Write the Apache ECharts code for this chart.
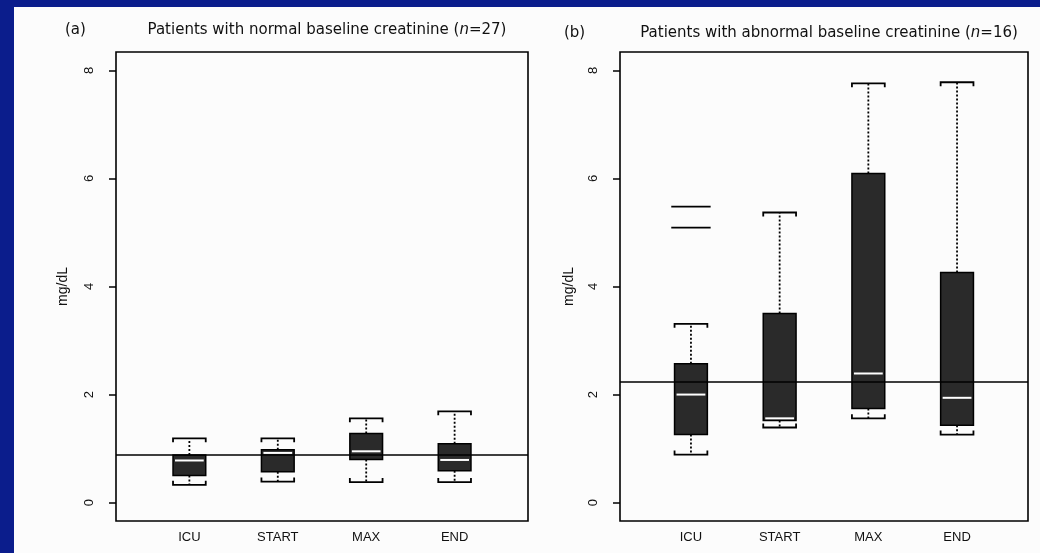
<!DOCTYPE html>
<html><head><meta charset="utf-8">
<script src="https://cdn.jsdelivr.net/npm/echarts@6/dist/echarts.min.js"></script>
<style>html,body{margin:0;padding:0;background:#0b1d8c}#c{width:1040px;height:553px}</style>
</head><body><div id="c"></div>
<script>
// ---- data ----
const categories = ['ICU', 'START', 'MAX', 'END'];
const yTicks = [0, 2, 4, 6, 8];
// each row: [low whisker, Q1, median, Q3, high whisker]
const normalBoxes = [
  [0.33, 0.50, 0.78, 0.88, 1.19],
  [0.39, 0.57, 0.92, 0.98, 1.19],
  [0.38, 0.80, 0.95, 1.28, 1.56],
  [0.38, 0.59, 0.79, 1.09, 1.69]
];
const abnormalBoxes = [
  [0.89, 1.26, 2.00, 2.57, 3.31],
  [1.39, 1.52, 1.56, 3.50, 5.37],
  [1.56, 1.74, 2.39, 6.09, 7.76],
  [1.26, 1.43, 1.94, 4.26, 7.78]
];
// outliers: [category index (1-based), value]
const normalOutliers = [];
const abnormalOutliers = [[1, 5.09], [1, 5.48]];
const normalRef = 0.89;
const abnormalRef = 2.24;
const titleA = 'Patients with normal baseline creatinine (';
const nA = '=27)';
const titleB = 'Patients with abnormal baseline creatinine (';
const nB = '=16)';

// ---- drawing ----
const BOXW = 0.37;
function boxRender(params, api) {
  const x = api.value(0);
  const pLo = api.coord([x, api.value(1)]);
  const pQ1 = api.coord([x, api.value(2)]);
  const pMed = api.coord([x, api.value(3)]);
  const pQ3 = api.coord([x, api.value(4)]);
  const pHi = api.coord([x, api.value(5)]);
  const hw = api.size([BOXW, 0])[0] / 2;
  const cx = pLo[0];
  const dash = { stroke: '#000', lineWidth: 1.8, lineDash: [2, 2] };
  const cap = { stroke: '#000', lineWidth: 1.8, fill: null };
  return {
    type: 'group',
    children: [
      { type: 'line', shape: { x1: cx, y1: pQ3[1], x2: cx, y2: pHi[1] }, style: dash },
      { type: 'line', shape: { x1: cx, y1: pQ1[1], x2: cx, y2: pLo[1] }, style: dash },
      { type: 'polyline', shape: { points: [[cx - hw, pHi[1] + 4], [cx - hw, pHi[1]], [cx + hw, pHi[1]], [cx + hw, pHi[1] + 4]] }, style: cap },
      { type: 'polyline', shape: { points: [[cx - hw, pLo[1] - 4], [cx - hw, pLo[1]], [cx + hw, pLo[1]], [cx + hw, pLo[1] - 4]] }, style: cap },
      { type: 'rect', shape: { x: cx - hw, y: pQ3[1], width: 2 * hw, height: pQ1[1] - pQ3[1] }, style: { fill: '#2a2a2a', stroke: '#000', lineWidth: 1.5 } },
      { type: 'line', shape: { x1: cx - hw + 2, y1: pMed[1], x2: cx + hw - 2, y2: pMed[1] }, style: { stroke: '#fff', lineWidth: 2 } }
    ]
  };
}
function outRender(params, api) {
  const p = api.coord([api.value(0), api.value(1)]);
  const hw = api.size([BOXW, 0])[0] / 2 * 1.2;
  return { type: 'line', shape: { x1: p[0] - hw, y1: p[1], x2: p[0] + hw, y2: p[1] }, style: { stroke: '#000', lineWidth: 1.8 } };
}
function boxData(rows) { return rows.map((r, i) => [i + 1].concat(r)); }

const fontFam = '"Liberation Sans", Arial, sans-serif';
const titleFam = '"DejaVu Sans", sans-serif';
function xAxisFor(gi, mn, mx) {
  return {
    type: 'value', gridIndex: gi, min: mn, max: mx,
    axisLine: { show: false }, splitLine: { show: false },
    axisTick: { show: false, customValues: [1, 2, 3, 4] },
    axisLabel: { customValues: [1, 2, 3, 4], formatter: v => categories[Math.round(v) - 1] || '',
      color: '#111', fontSize: 13, fontFamily: fontFam, margin: 10 }
  };
}
function yAxisFor(gi, gap) {
  return {
    type: 'value', gridIndex: gi, min: -0.34, max: 8.34,
    name: 'mg/dL', nameLocation: 'middle', nameRotate: 90, nameGap: gap,
    nameTextStyle: { color: '#111', fontSize: 14, fontFamily: fontFam },
    axisLine: { show: false }, splitLine: { show: false },
    axisTick: { show: true, length: 7, customValues: yTicks, lineStyle: { color: '#000', width: 1.5 } },
    axisLabel: { customValues: yTicks, rotate: 90, color: '#111', fontSize: 13, fontFamily: fontFam, margin: 20 }
  };
}
function refLine(v) {
  return { silent: true, symbol: 'none', label: { show: false }, lineStyle: { color: '#000', type: 'solid', width: 1.6 }, data: [{ yAxis: v }] };
}
function richTitle(pre, post) {
  return {
    text: '{t|' + pre + '}{i|n}{t|' + post + '}',
    textStyle: { rich: {
      t: { fontSize: 15, fontWeight: 'normal', color: '#111', fontFamily: titleFam },
      i: { fontSize: 15, fontWeight: 'normal', color: '#111', fontStyle: 'italic', fontFamily: titleFam }
    } }
  };
}

const chart = echarts.init(document.getElementById('c'));
chart.setOption({
  backgroundColor: '#0b1d8c',
  animation: false,
  graphic: [{ type: 'rect', z: -10, shape: { x: 14, y: 7, width: 1030, height: 550 }, style: { fill: '#fcfcfc' } }],
  title: [
    { text: '(a)', left: 60, top: 18, textStyle: { fontSize: 15, fontWeight: 'normal', color: '#111', fontFamily: titleFam } },
    { text: '(b)', left: 559, top: 21, textStyle: { fontSize: 15, fontWeight: 'normal', color: '#111', fontFamily: titleFam } },
    Object.assign(richTitle(titleA, nA), { left: 322, top: 18, textAlign: 'center' }),
    Object.assign(richTitle(titleB, nB), { left: 824, top: 21, textAlign: 'center' })
  ],
  grid: [
    { left: 116, top: 52, width: 412, height: 469, show: true, borderColor: '#000', borderWidth: 1.6, backgroundColor: 'transparent' },
    { left: 620, top: 52, width: 408, height: 469, show: true, borderColor: '#000', borderWidth: 1.6, backgroundColor: 'transparent' }
  ],
  xAxis: [xAxisFor(0, 0.17, 4.83), xAxisFor(1, 0.2, 4.8)],
  yAxis: [yAxisFor(0, 46), yAxisFor(1, 44)],
  series: [
    { type: 'custom', xAxisIndex: 0, yAxisIndex: 0, renderItem: boxRender, data: boxData(normalBoxes),
      encode: { x: 0, y: [1, 2, 3, 4, 5] }, markLine: refLine(normalRef) },
    { type: 'custom', xAxisIndex: 1, yAxisIndex: 1, renderItem: boxRender, data: boxData(abnormalBoxes),
      encode: { x: 0, y: [1, 2, 3, 4, 5] }, markLine: refLine(abnormalRef) },
    { type: 'custom', xAxisIndex: 1, yAxisIndex: 1, renderItem: outRender, data: abnormalOutliers, encode: { x: 0, y: 1 } }
  ]
});
</script></body></html>
